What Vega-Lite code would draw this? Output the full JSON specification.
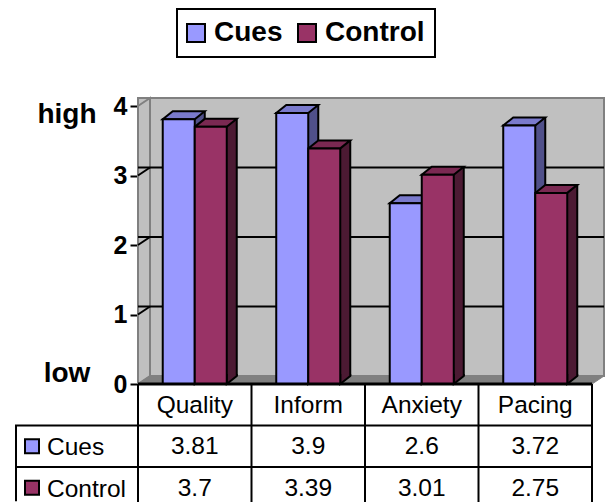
{
"$schema":"https://vega.github.io/schema/vega-lite/v6.json",
"padding":{"left":12,"top":8,"right":0,"bottom":0},
"background":"white",
"spacing":0,
"bounds":"flush",
"config":{"view":{"stroke":null},"font":"Liberation Sans","legend":{"strokeWidth":2}},
"datasets":{
"scores":[
{"category":"Quality","series":"Cues","value":3.81},
{"category":"Quality","series":"Control","value":3.7},
{"category":"Inform","series":"Cues","value":3.9},
{"category":"Inform","series":"Control","value":3.39},
{"category":"Anxiety","series":"Cues","value":2.6},
{"category":"Anxiety","series":"Control","value":3.01},
{"category":"Pacing","series":"Cues","value":3.72},
{"category":"Pacing","series":"Control","value":2.75}],
"ticks":[{"v":1},{"v":2},{"v":3}],
"names":[{"category":"Quality"},{"category":"Inform"},{"category":"Anxiety"},{"category":"Pacing"}],
"rows":[{"series":"Cues"},{"series":"Control"}],
"ends":[{"label":"high","v":3.87},{"label":"low","v":0.15}]
},
"vconcat":[
{"width":454,"height":278,
"encoding":{},
"layer":[
{"data":{"values":[{"a":0}]},"mark":{"type":"rect","fill":"#C0C0C0","stroke":"#808080","strokeWidth":2,"xOffset":12,"x2Offset":12,"yOffset":-8,"y2Offset":-8},
"encoding":{"y":{"datum":0,"type":"quantitative","scale":{"domain":[0,4]},"axis":{"values":[0,1,2,3,4],"format":"d","title":null,"grid":false,"labelFontSize":25,"labelFontWeight":"bold","labelColor":"black","tickColor":"black","tickSize":8,"tickWidth":2,"domainColor":"black","domainWidth":2,"labelPadding":3}},"y2":{"datum":4}}},
{"data":{"values":[{"a":0}]},"mark":{"type":"point","filled":true,"opacity":1,"size":4,"fill":"#C0C0C0","stroke":"#808080","strokeWidth":2,"shape":"M0,0 L12,-8 V-286 L0,-278 Z"},
"encoding":{"x":{"datum":"Quality","type":"nominal","bandPosition":0,"scale":{"domain":["Quality","Inform","Anxiety","Pacing"],"paddingInner":0,"paddingOuter":0},"axis":null},"y":{"datum":0,"type":"quantitative"}}},
{"data":{"values":[{"a":0}]},"mark":{"type":"point","filled":true,"opacity":1,"size":4,"fill":"#808080","stroke":"#808080","strokeWidth":1,"shape":"M0,0 L12,-8 H466 L454,0 Z"},
"encoding":{"x":{"datum":"Quality","type":"nominal","bandPosition":0},"y":{"datum":0,"type":"quantitative"}}},
{"data":{"name":"ticks"},"mark":{"type":"rule","color":"black","strokeWidth":2,"xOffset":12,"x2Offset":12,"yOffset":-8,"y2Offset":-8},
"encoding":{"y":{"field":"v","type":"quantitative"}}},
{"data":{"name":"ticks"},"mark":{"type":"point","filled":false,"opacity":1,"size":4,"stroke":"black","strokeWidth":2,"shape":"M0,0 L12,-8"},
"encoding":{"x":{"datum":"Quality","type":"nominal","bandPosition":0},"y":{"field":"v","type":"quantitative"}}},
{"data":{"name":"scores"},"transform":[{"filter":"datum.series==='Cues'"}],"mark":{"type":"rule","strokeWidth":10,"color":"#50508A","xOffset":5,"yOffset":-8,"y2Offset":-8},
"encoding":{"x":{"field":"category","type":"nominal","sort":null},
"y":{"field":"value","type":"quantitative","stack":null},"y2":{"datum":0}}},
{"data":{"name":"scores"},"transform":[{"filter":"datum.series==='Control'"}],"mark":{"type":"rule","strokeWidth":10,"color":"#4C1A33","xOffset":37,"yOffset":-8,"y2Offset":-8},
"encoding":{"x":{"field":"category","type":"nominal","sort":null},
"y":{"field":"value","type":"quantitative","stack":null},"y2":{"datum":0}}},
{"data":{"name":"scores"},"transform":[{"filter":"datum.series==='Cues'"}],"mark":{"type":"rule","strokeWidth":2,"color":"black","xOffset":10,"yOffset":-8,"y2Offset":-8},
"encoding":{"x":{"field":"category","type":"nominal","sort":null},
"y":{"field":"value","type":"quantitative","stack":null},"y2":{"datum":0}}},
{"data":{"name":"scores"},"transform":[{"filter":"datum.series==='Control'"}],"mark":{"type":"rule","strokeWidth":2,"color":"black","xOffset":42,"yOffset":-8,"y2Offset":-8},
"encoding":{"x":{"field":"category","type":"nominal","sort":null},
"y":{"field":"value","type":"quantitative","stack":null},"y2":{"datum":0}}},
{"data":{"name":"scores"},"mark":{"type":"point","filled":true,"opacity":1,"size":4,"stroke":"black","strokeWidth":2,"shape":"M16,-10 L16,0 L26,-8 L26,-10"},
"encoding":{"x":{"field":"category","type":"nominal","sort":null},
"xOffset":{"field":"series","type":"nominal","sort":["Cues","Control"],"scale":{"domain":["Cues","Control"],"paddingOuter":0.773,"paddingInner":0}},
"y":{"datum":0,"type":"quantitative"},
"fill":{"field":"series","type":"nominal","legend":null,"scale":{"domain":["Cues","Control"],"range":["#50508A","#4C1A33"]}}}},
{"data":{"name":"scores"},"mark":{"type":"point","filled":true,"opacity":1,"size":4,"stroke":"black","strokeWidth":2,"shape":"M-16,0 L16,0 L26,-8 L-6,-8 Z"},
"encoding":{"x":{"field":"category","type":"nominal","sort":null},
"xOffset":{"field":"series","type":"nominal"},
"y":{"field":"value","type":"quantitative"},
"fill":{"field":"series","type":"nominal","legend":null,"scale":{"domain":["Cues","Control"],"range":["#7A7ACC","#7A2952"]}}}},
{"data":{"name":"scores"},"mark":{"type":"bar","stroke":"black","strokeWidth":2},
"encoding":{"x":{"field":"category","type":"nominal","sort":null},
"xOffset":{"field":"series","type":"nominal"},
"y":{"field":"value","type":"quantitative","stack":null},
"fill":{"field":"series","type":"nominal","sort":["Cues","Control"],"scale":{"domain":["Cues","Control"],"range":["#9999FF","#993366"]},
"legend":{"title":null,"orient":"none","legendX":39,"legendY":-97,"direction":"horizontal","symbolType":"square","symbolSize":324,"symbolStrokeColor":"black","symbolStrokeWidth":2,"labelFontSize":28,"labelFontWeight":"bold","labelColor":"black","labelFont":"Liberation Sans","strokeColor":"black","fillColor":"white","padding":10,"symbolOffset":-5,"columnPadding":11,"labelOffset":4,"symbolOpacity":1,"labelLimit":200}}}},
{"data":{"values":[{"a":0}]},"mark":{"type":"rule","color":"black","strokeWidth":3},"encoding":{"y":{"datum":0,"type":"quantitative"}}},
{"data":{"name":"ends"},"mark":{"type":"text","fontSize":28,"fontWeight":"bold","color":"black","xOffset":-71,"baseline":"middle"},
"encoding":{"x":{"datum":"Quality","type":"nominal","bandPosition":0},"y":{"field":"v","type":"quantitative"},"text":{"field":"label"}}}
],
"resolve":{"scale":{"fill":"independent"},"legend":{"fill":"independent"}}
},
{"width":454,"height":119,
"layer":[
{"data":{"name":"names"},"mark":{"type":"rule","color":"black","strokeWidth":2},
"encoding":{"x":{"field":"category","type":"nominal","sort":null,"bandPosition":0,"scale":{"domain":["Quality","Inform","Anxiety","Pacing"],"paddingInner":0,"paddingOuter":0},"axis":null}}},
{"data":{"values":[{"a":0}]},"mark":{"type":"rule","color":"black","strokeWidth":2},
"encoding":{"x":{"datum":"Pacing","type":"nominal","bandPosition":1}}},
{"data":{"name":"rows"},"mark":{"type":"rule","color":"black","strokeWidth":2},
"encoding":{"y":{"field":"series","type":"nominal","bandPosition":0,"scale":{"domain":["Category","Cues","Control"],"range":[0,124.5],"paddingInner":0,"paddingOuter":0},"axis":null}}},
{"data":{"values":[{"series":"Cues"}]},"mark":{"type":"point","filled":false,"opacity":1,"size":4,"stroke":"black","strokeWidth":2,"shape":"M0,-20.75 H-122 V55 M-122,20.75 H0"},
"encoding":{"x":{"datum":"Quality","type":"nominal","bandPosition":0},"y":{"field":"series","type":"nominal"}}},
{"data":{"name":"rows"},"mark":{"type":"point","shape":"square","filled":true,"opacity":1,"size":196,"stroke":"black","strokeWidth":2,"xOffset":-106},
"encoding":{"x":{"datum":"Quality","type":"nominal","bandPosition":0},"y":{"field":"series","type":"nominal"},
"fill":{"field":"series","type":"nominal","legend":null,"scale":{"domain":["Cues","Control"],"range":["#9999FF","#993366"]}}}},
{"data":{"name":"rows"},"mark":{"type":"text","fontSize":24.5,"color":"black","align":"left","baseline":"middle","xOffset":-91,"yOffset":2},
"encoding":{"x":{"datum":"Quality","type":"nominal","bandPosition":0},"y":{"field":"series","type":"nominal"},"text":{"field":"series"}}},
{"data":{"name":"names"},"mark":{"type":"text","fontSize":24.5,"color":"black","baseline":"middle","yOffset":1},
"encoding":{"x":{"field":"category","type":"nominal","sort":null},"y":{"datum":"Category","type":"nominal"},"text":{"field":"category"}}},
{"data":{"name":"scores"},"mark":{"type":"text","fontSize":24.5,"color":"black","baseline":"middle","yOffset":1},
"encoding":{"x":{"field":"category","type":"nominal","sort":null},"y":{"field":"series","type":"nominal"},"text":{"field":"value","type":"nominal"}}}
]}
]
}
